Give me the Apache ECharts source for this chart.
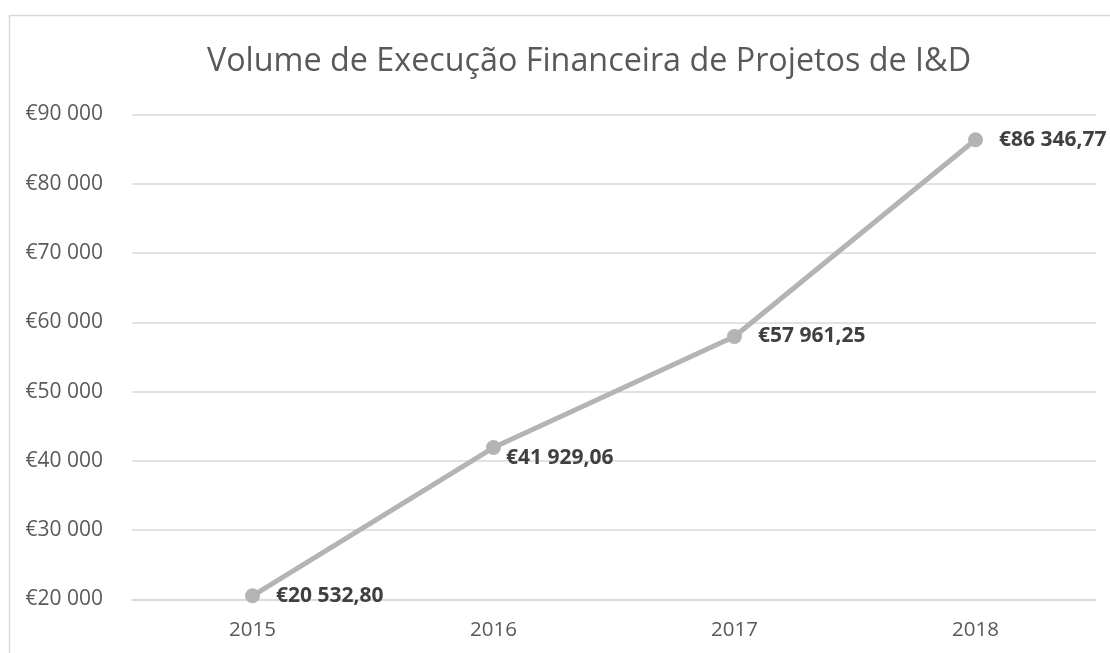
<!DOCTYPE html>
<html>
<head>
<meta charset="utf-8">
<script src="https://cdn.jsdelivr.net/npm/echarts@6/dist/echarts.min.js"></script>
<style>
  html, body { margin: 0; padding: 0; background: #fff; }
  #chart { width: 1110px; height: 653px; }
</style>
</head>
<body>
<div id="chart"></div>
<script>
// dados do gráfico
const years = ['2015', '2016', '2017', '2018'];
const volumes = [20532.80, 41929.06, 57961.25, 86346.77];
const yTicks = { min: 20000, max: 90000, step: 10000 };

const chart = echarts.init(document.getElementById('chart'));

// formato português: espaço nos milhares, vírgula decimal
function euro(v, decimals) {
    const parts = v.toFixed(decimals).split('.');
    const int = parts[0].replace(/\B(?=(\d{3})+(?!\d))/g, ' ');
    return '€' + int + (parts[1] ? ',' + parts[1] : '');
}

const font = '"Open Sans", sans-serif';

// o rótulo de 2016 fica ligeiramente abaixo do ponto, como no original
const seriesData = volumes.map((v, i) => i === 1
    ? { value: v, label: { offset: [-11, 10] } }
    : v);

chart.setOption({
    animation: false,
    title: {
        text: 'Volume de Execução Financeira de Projetos de I&D',
        left: 584, top: 41, textAlign: 'center',
        textStyle: { fontFamily: font, fontSize: 32.3, fontWeight: 'normal', color: '#595959' }
    },
    graphic: [{
        type: 'rect', silent: true,
        shape: { x: 9.5, y: 15.5, width: 1300, height: 800 },
        style: { fill: 'none', stroke: '#d9d9d9', lineWidth: 1.5 }
    }],
    grid: { left: 132, right: 14, top: 114.5, bottom: 53.5 },
    xAxis: {
        type: 'category', data: years, boundaryGap: true,
        axisLine: { show: true, lineStyle: { color: '#d9d9d9', width: 1.5 } },
        axisTick: { show: false },
        axisLabel: { fontFamily: font, fontSize: 20.5, color: '#595959', margin: 20 }
    },
    yAxis: {
        type: 'value', min: yTicks.min, max: yTicks.max, interval: yTicks.step,
        axisLine: { show: false }, axisTick: { show: false },
        splitLine: { lineStyle: { color: '#d9d9d9', width: 1.5 } },
        axisLabel: { fontFamily: font, fontSize: 21, color: '#595959', margin: 29,
            formatter: v => euro(v, 0) }
    },
    series: [{
        type: 'line', data: seriesData,
        symbol: 'circle', symbolSize: 15,
        lineStyle: { color: '#b4b4b4', width: 5 },
        itemStyle: { color: '#b4b4b4' },
        label: {
            show: true, position: 'right', distance: 16,
            fontFamily: font, fontSize: 21, fontWeight: 'bold', color: '#404040',
            formatter: p => euro(p.value, 2)
        }
    }]
});
</script>
</body>
</html>
